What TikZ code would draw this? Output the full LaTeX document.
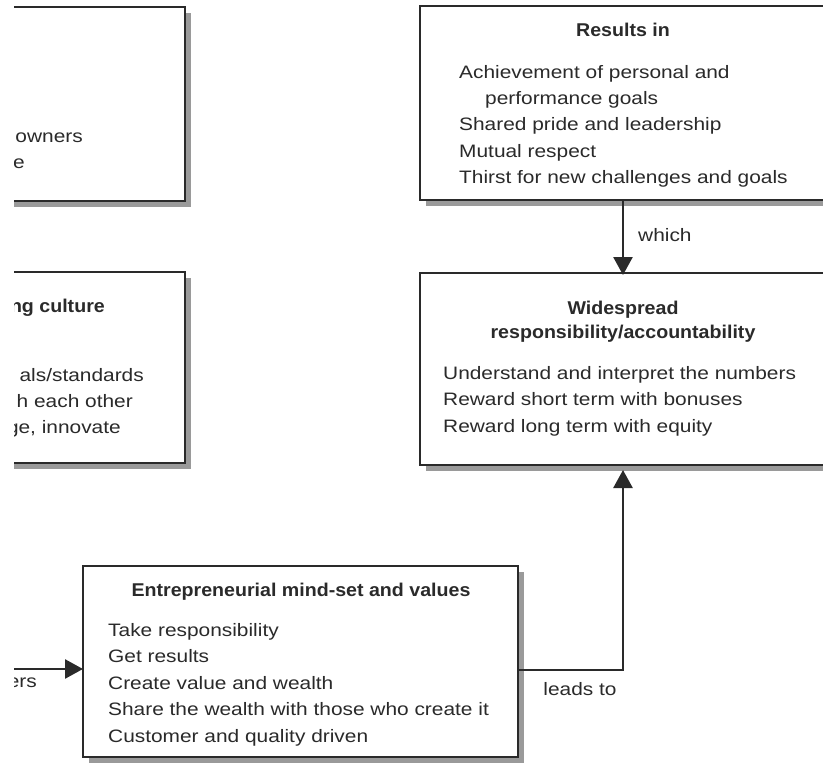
\documentclass[tikz,border=0pt]{standalone}
\usepackage{fontspec}
\setmainfont{Liberation Sans}[FakeStretch=1.16]
\newfontfamily\headfont{Liberation Sans}[FakeStretch=1.06]
\usetikzlibrary{arrows.meta,shadows}
\definecolor{ink}{HTML}{2A2A2A}
\definecolor{shade}{HTML}{9A9A9A}
\begin{document}
\begin{tikzpicture}[x=1pt,y=-1pt,
  box/.style={draw=ink,line width=2.8pt,fill=white,inner sep=0pt,outer sep=0pt,anchor=north west,
    general shadow={shadow xshift=6pt,shadow yshift=-6pt,fill=shade}},
  body/.style={font=\fontsize{18}{26.4}\selectfont,text=ink,inner sep=0pt},
  head/.style={font=\headfont\bfseries\fontsize{18.5}{24.5}\selectfont,text=ink,inner sep=0pt},
  conn/.style={draw=ink,line width=2.6pt,-{Triangle[length=18pt,width=19pt]}},
  lbl/.style={font=\fontsize{18}{22}\selectfont,text=ink,inner sep=0pt}]
\useasboundingbox (0,0) rectangle (823,764);
\begin{scope}
\clip (14,0) rectangle (823,764);
% boxes
\node[box,minimum width=205pt,minimum height=194pt] (tl) at (-20,7) {};
\node[box,minimum width=205pt,minimum height=191pt] (ml) at (-20,272) {};
\node[box,minimum width=430pt,minimum height=194pt] (res) at (420,6) {};
\node[box,minimum width=430pt,minimum height=192pt] (wide) at (420,273) {};
\node[box,minimum width=435pt,minimum height=191pt] (ent) at (83,566) {};
% top-left box text
\node[body,anchor=base east] (tl1) at (83,142) {owners};
\node[body,anchor=base east] (tl2) at (25,168) {e};
% middle-left box text
\node[head,anchor=base east] (mlt) at (105,312) {ng culture};
\node[body,anchor=base east] (ml1) at (144,381) {als/standards};
\node[body,anchor=base east] (ml2) at (133,407) {h each other};
\node[body,anchor=base east] (ml3) at (121,433) {ge, innovate};
% results box text
\node[head,anchor=base] (rest) at (623,36) {Results in};
\node[body,anchor=base west] (res1) at (459,78) {Achievement of personal and};
\node[body,anchor=base west] (res2) at (485,104.4) {performance goals};
\node[body,anchor=base west] (res3) at (459,130.8) {Shared pride and leadership};
\node[body,anchor=base west] (res4) at (459,157.2) {Mutual respect};
\node[body,anchor=base west] (res5) at (459,183.6) {Thirst for new challenges and goals};
% widespread box text
\node[head,anchor=base] (widet1) at (623,314) {Widespread};
\node[head,anchor=base] (widet2) at (623,338.5) {responsibility/accountability};
\node[body,anchor=base west] (wide1) at (443,379) {Understand and interpret the numbers};
\node[body,anchor=base west] (wide2) at (443,405.5) {Reward short term with bonuses};
\node[body,anchor=base west] (wide3) at (443,432) {Reward long term with equity};
% entrepreneurial box text
\node[head,anchor=base] (entt) at (301,596) {Entrepreneurial mind-set and values};
\node[body,anchor=base west] (ent1) at (108,636) {Take responsibility};
\node[body,anchor=base west] (ent2) at (108,662.5) {Get results};
\node[body,anchor=base west] (ent3) at (108,689) {Create value and wealth};
\node[body,anchor=base west] (ent4) at (108,715.5) {Share the wealth with those who create it};
\node[body,anchor=base west] (ent5) at (108,742) {Customer and quality driven};
% connectors
\coordinate (ax) at (623,0);
\coordinate (ly) at (0,670);
\coordinate (lin) at (0,669);
\draw[conn] (res.south -| ax) -- ([yshift=-2pt]wide.north -| ax);
\node[lbl,anchor=base west] (which) at (638,241) {which};
\draw[conn] (ent.east |- ly) -- (ax |- ly) -- ([yshift=-5pt]wide.south -| ax);
\node[lbl,anchor=base] (leads) at (580,695) {leads to};
\draw[conn] (lin) -- (lin -| ent.west);
\node[lbl,anchor=base east] (ers) at (37,687) {ers};
\end{scope}
\end{tikzpicture}
\end{document}
